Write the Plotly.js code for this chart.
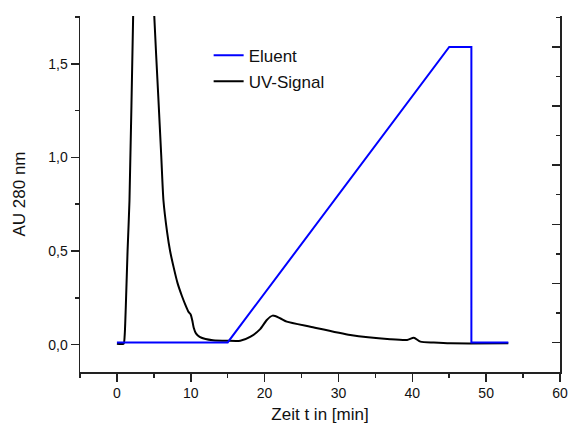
<!DOCTYPE html>
<html>
<head>
<meta charset="utf-8">
<script src="https://cdn.plot.ly/plotly-3.0.1.min.js"></script>
<style>html,body{margin:0;padding:0;background:#fff;}#chart{width:568px;height:428px;}</style>
</head>
<body>
<div id="chart"></div>
<script>
// Eluent gradient (% B, right axis)
const eluentTime = [0, 15, 45, 48, 48, 53];
const eluentValue = [0, 0, 100, 100, 0, 0];

// UV signal at 280 nm (AU, left axis)
const uvTime = [0, 0.9, 1.05, 1.2, 1.44, 1.7, 2.2, 2.6, 3.2, 4.0, 4.6, 5.05, 5.6, 6.0, 6.3, 6.8, 7.2, 7.7, 8.2, 8.8, 9.3, 9.7, 10.0, 10.2, 10.4, 10.7, 11.2, 12.0, 13.0, 14.9, 16.7, 18.1, 19.4, 20.3, 21.1, 22.1, 23.0, 26.2, 31.6, 37.0, 39.3, 40.2, 41.1, 42.9, 45.2, 53.0];
const uvValue = [0.005, 0.005, 0.05, 0.2, 0.5, 0.77, 1.76, 2.5, 3.0, 2.9, 2.3, 1.76, 1.325, 1.01, 0.77, 0.6, 0.5, 0.41, 0.33, 0.26, 0.21, 0.175, 0.16, 0.13, 0.09, 0.06, 0.042, 0.03, 0.024, 0.021, 0.021, 0.043, 0.083, 0.132, 0.155, 0.141, 0.123, 0.096, 0.052, 0.029, 0.025, 0.037, 0.016, 0.011, 0.007, 0.007];

const traces = [
  {x: eluentTime, y: eluentValue, name: 'Eluent', yaxis: 'y2', mode: 'lines',
   line: {color: '#0000ff', width: 2}, legendgroup: 'a'},
  {x: uvTime, y: uvValue, name: 'UV-Signal', yaxis: 'y', mode: 'lines',
   line: {color: '#000000', width: 2, shape: 'spline', smoothing: 0.6}, legendgroup: 'b'}
];

const axisCommon = {
  showgrid: false, zeroline: false, showline: true, linecolor: '#222', linewidth: 1.5,
  tickcolor: '#222', tickwidth: 1.5, ticklen: 8,
  tickfont: {family: 'Liberation Sans, Arial, sans-serif', size: 14, color: '#111'}
};

const layout = {
  width: 568, height: 428,
  margin: {l: 80, r: 8, t: 16, b: 56},
  paper_bgcolor: '#fff', plot_bgcolor: '#fff',
  separators: ',.',
  font: {family: 'Liberation Sans, Arial, sans-serif', color: '#111'},
  showlegend: true,
  legend: {x: 0.268, y: 0.939, xanchor: 'left', yanchor: 'top', bgcolor: 'rgba(0,0,0,0)',
           font: {size: 17, color: '#111'}, traceorder: 'grouped', tracegroupgap: 1},
  xaxis: Object.assign({}, axisCommon, {
    range: [-5, 60], tick0: 0, dtick: 10, ticks: 'outside',
    minor: {dtick: 5, ticklen: 4, ticks: 'outside', tickcolor: '#222', tickwidth: 1.5},
    title: {text: 'Zeit t in [min]', font: {size: 17, color: '#111'}, standoff: 8}
  }),
  yaxis: Object.assign({}, axisCommon, {
    range: [-0.146, 1.755], tick0: 0, dtick: 0.5, ticks: 'outside', tickformat: '.1f',
    minor: {dtick: 0.25, ticklen: 4, ticks: 'outside', tickcolor: '#222', tickwidth: 1.5},
    title: {text: 'AU 280 nm', font: {size: 17, color: '#111'}, standoff: 18}
  }),
  yaxis2: Object.assign({}, axisCommon, {
    overlaying: 'y', side: 'right', range: [-10, 110.5], tick0: 0, dtick: 20,
    ticks: 'inside', showticklabels: false,
    minor: {dtick: 10, ticklen: 4, ticks: 'inside', tickcolor: '#222', tickwidth: 1.5}
  })
};

Plotly.newPlot('chart', traces, layout, {displayModeBar: false, staticPlot: true});
</script>
</body>
</html>
